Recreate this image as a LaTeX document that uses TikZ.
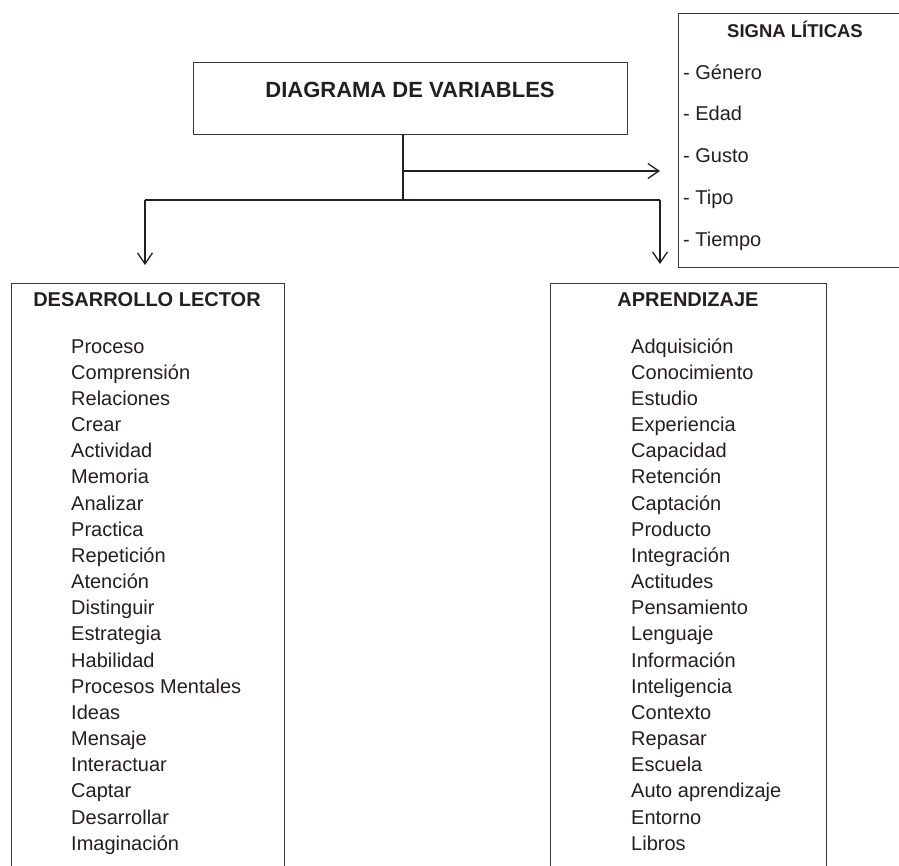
\documentclass[tikz,border=0pt]{standalone}
\usepackage{fontspec}
\setmainfont{Liberation Sans}
\usetikzlibrary{arrows.meta}
\definecolor{ink}{HTML}{231F20}
\definecolor{edge}{HTML}{3A3A3A}
\tikzset{
  frame/.style={draw=edge, line width=1.1pt, rectangle, inner sep=0pt, anchor=north west},
  ttl/.style={font=\bfseries\fontsize{20}{24}\selectfont, text=ink, inner sep=0pt, anchor=center},
  itm/.style={font=\fontsize{20}{24}\selectfont, text=ink, inner sep=0pt, anchor=west, text height=14.3pt, text depth=0pt},
  link/.style={draw=ink, line width=1.6pt},
  arr/.style={link, -{Straight Barb[length=11pt, width=15pt, line width=1.3pt]}},
}
\begin{document}
\begin{tikzpicture}[x=1pt, y=-1pt]
\useasboundingbox (0,0) rectangle (899,865);
% boxes
\node[frame, minimum width=434pt, minimum height=72pt] (main) at (193,62) {};
\node[frame, minimum width=240pt, minimum height=254pt] (sig) at (678,13) {};
\node[frame, minimum width=273pt, minimum height=620pt] (dl) at (11,283) {};
\node[frame, minimum width=276pt, minimum height=620pt] (ap) at (550,283) {};
% titles
\node[ttl, font=\bfseries\fontsize{22}{26}\selectfont] (tmain) at (410,90) {DIAGRAMA DE VARIABLES};
\node[ttl, font=\bfseries\fontsize{18.5}{22}\selectfont] (tsig) at (795,29) {SIGNA LÍTICAS};
\node[ttl] (tdl) at (147,300) {DESARROLLO LECTOR};
\node[ttl] (tap) at (688,300) {APRENDIZAJE};
% signa items
\foreach \t [count=\i from 0] in {Género,Edad,Gusto,Tipo,Tiempo}{
  \node[itm] (s\i) at (683,{72+41.8*\i}) {- \t};
}
% left items
\foreach \t [count=\i from 0] in {Proceso,Comprensión,Relaciones,Crear,Actividad,Memoria,Analizar,Practica,Repetición,Atención,Distinguir,Estrategia,Habilidad,Procesos Mentales,Ideas,Mensaje,Interactuar,Captar,Desarrollar,Imaginación}{
  \node[itm] (l\i) at (71,{346+26.16*\i}) {\t};
}
% right items
\foreach \t [count=\i from 0] in {Adquisición,Conocimiento,Estudio,Experiencia,Capacidad,Retención,Captación,Producto,Integración,Actitudes,Pensamiento,Lenguaje,Información,Inteligencia,Contexto,Repasar,Escuela,Auto aprendizaje,Entorno,Libros}{
  \node[itm] (r\i) at (631,{346+26.16*\i}) {\t};
}
% connectors
\coordinate (top) at (403,134);
\coordinate (mid) at (403,171);
\coordinate (junc) at (403,200);
\coordinate (sigtip) at (660,171);
\coordinate (lc) at (145,200);
\coordinate (rc) at (660,200);
\coordinate (ltip) at (145,265);
\coordinate (rtip) at (660,264);
\draw[link] (top) -- (junc);
\draw[arr] (mid) -- (sigtip);
\draw[link] (lc) -- (rc);
\draw[arr] (lc) -- (ltip);
\draw[arr] (rc) -- (rtip);
\end{tikzpicture}
\end{document}
